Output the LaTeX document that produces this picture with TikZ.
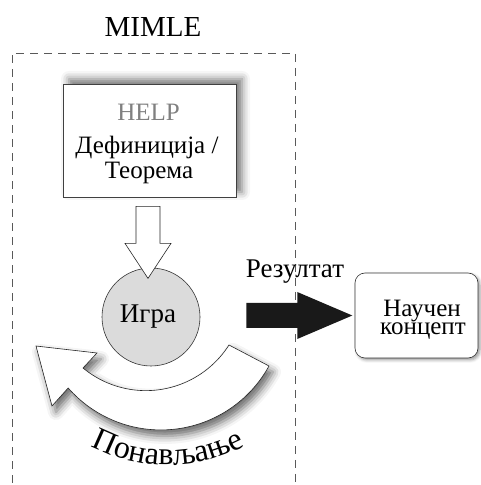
\documentclass[tikz,border=0pt]{standalone}
\usepackage{fontspec}
\setmainfont{Liberation Serif}
\usetikzlibrary{shadows.blur,decorations.text,calc}
\begin{document}
\begin{tikzpicture}[x=1pt,y=1pt,
  frame/.style={draw=black!65, line width=0.8pt, dash pattern=on 8pt off 6pt},
  helpbox/.style={draw=black!75, fill=white, line width=0.8pt, minimum width=173pt, minimum height=113pt, inner sep=0pt,
    blur shadow={shadow xshift=6pt, shadow yshift=5pt, shadow blur radius=8pt, shadow opacity=55}},
  gamecirc/.style={circle, draw=black!80, line width=0.6pt, fill=black!14, minimum size=98pt, inner sep=0pt},
  conceptbox/.style={draw=black!80, fill=white, line width=0.6pt, rounded corners=10pt, minimum width=123pt, minimum height=85pt, inner sep=0pt,
    blur shadow={shadow xshift=2pt, shadow yshift=-2pt, shadow blur radius=3pt, shadow opacity=40}},
  hollowarrow/.style={draw=black!85, fill=white, line width=0.6pt, line join=miter},
  loopshape/.style={draw=black!85, fill=white, line width=0.6pt, line join=miter,
    blur shadow={shadow xshift=4pt, shadow yshift=-6pt, shadow blur radius=8pt, shadow opacity=60}},
  blackarrow/.style={fill=black!90, draw=none},
  txt/.style={anchor=base, inner sep=0pt}
]
\useasboundingbox (0,0) rectangle (480,485);

% title
\node[txt, font=\fontsize{29}{29}\selectfont] (title) at (153,448) {MIMLE};

% dashed frame
\draw[frame] (12,2) -- (12,432) -- (295,432) -- (295,2);

% HELP box
\node[helpbox] (help) at (149.5,344.5) {};
\node[txt, font=\fontsize{25}{25}\selectfont, text=black!50] (helpt) at (148.5,364) {HELP};
\node[txt, font=\fontsize{25}{25}\selectfont] (deft) at (147,331) {Дефиниција /};
\node[txt, font=\fontsize{25}{25}\selectfont] (theot) at (149,306) {Теорема};

% game circle
\node[gamecirc] (game) at (151,168) {};
\node[txt, font=\fontsize{27}{27}\selectfont] (gamet) at (148,162) {Игра};

% down hollow arrow (help -> game)
\begin{scope}[shift={($(help.south)+(-1.5,0)$)}]
\draw[hollowarrow] (-12,-9) -- (12,-9) -- (12,-46) -- (23,-46) -- (0,-81) -- (-23,-46) -- (-12,-46) -- cycle;
\end{scope}

% concept box
\node[conceptbox] (concept) at (416.5,169.5) {};
\node[txt, font=\fontsize{25}{25}\selectfont] (c1) at (422,168) {Научен};
\node[txt, font=\fontsize{25}{25}\selectfont] (c2) at (423,150) {концепт};

% result arrow (game -> concept)
\begin{scope}[shift={(game.east |- concept.west)}]
\fill[blackarrow] (46,12.5) -- (97,12.5) -- (97,23.5) -- (152,0) -- (97,-23.5) -- (97,-12.5) -- (46,-12.5) -- cycle;
\end{scope}
\node[txt, font=\fontsize{27}{27}\selectfont] (rest) at (295,207) {Резултат};

% repeat loop arrow
\begin{scope}[shift={(game.center)}]
\path[loopshape] (-68,-51) arc[start angle=-129.6, end angle=-32.5, radius=98.6]
  -- (118,-49) arc[start angle=-28.8, end angle=-138.7, radius=123.4]
  -- (-99,-89) -- (-115,-29) -- (-54,-36) -- cycle;
\path[decorate, decoration={text along path, text align=center,
  text={|\fontsize{32}{32}\selectfont|Понављање}}]
  ($(17,17)+(-150:165)$) arc[start angle=-150, end angle=-30, radius=165];
\end{scope}
\end{tikzpicture}
\end{document}
